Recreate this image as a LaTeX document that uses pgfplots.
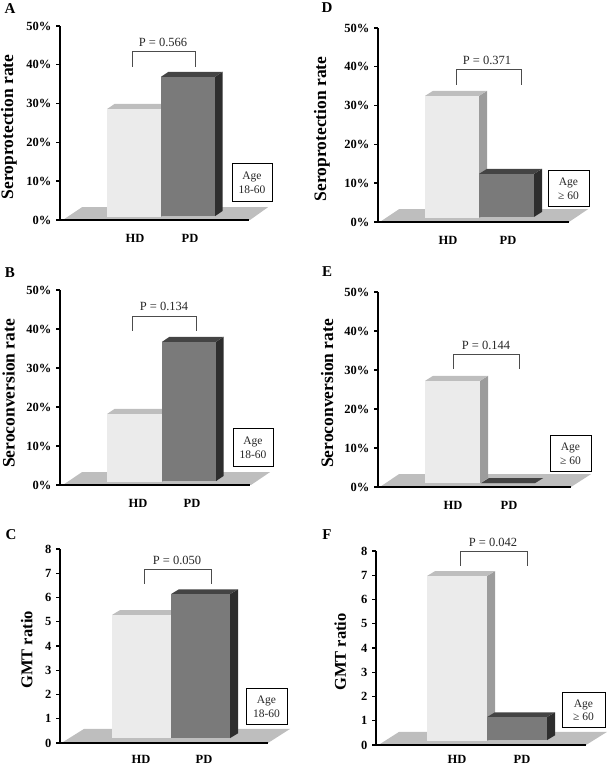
\documentclass[border=0pt]{standalone}
\usepackage{fontspec}
\setmainfont{Liberation Serif}
\usepackage{pgfplots}
\pgfplotsset{compat=1.18}

\definecolor{hdfront}{HTML}{EBEBEB}
\definecolor{hdtop}{HTML}{BEBEBE}
\definecolor{hdside}{HTML}{9C9C9C}
\definecolor{pdfront}{HTML}{7A7A7A}
\definecolor{pdtop}{HTML}{444444}
\definecolor{pdside}{HTML}{2E2E2E}
\definecolor{floor}{HTML}{BEBEBE}

% #1 hd/pd, #2 left, #3 right, #4 base, #5 top (x in px from the axis, y in axis units)
\newcommand{\threedbar}[5]{%
  \pgfmathsetmacro\xa{#2+\dx}%
  \pgfmathsetmacro\xb{#3+\dx}%
  \pgfmathsetmacro\ya{#4+\dy}%
  \pgfmathsetmacro\yb{#5+\dy}%
  \addplot[fill=#1side,draw=none] coordinates {(#3,#4)(\xb,\ya)(\xb,\yb)(#3,#5)} --cycle;
  \addplot[fill=#1top,draw=none] coordinates {(#2,#5)(\xa,\yb)(\xb,\yb)(#3,#5)} --cycle;
  \addplot[fill=#1front,draw=none] coordinates {(#2,#4)(#3,#4)(#3,#5)(#2,#5)} --cycle;
}

\pgfplotsset{
  panel/.style={
    anchor=south west,
    scale only axis,
    clip=false,
    axis on top,
    axis lines=left,
    axis line style={-,line width=2pt,black},
    xmin=0,ymin=0,
    tick align=outside,
    xtick style={draw=none},
    ytick style={line width=1.4pt,black},
    major tick length=4pt,
    xticklabels={HD,PD},
    tick label style={font=\bfseries\fontsize{12.5}{13}\selectfont},
    xticklabel style={anchor=center,yshift=-14pt},
    yticklabel style={xshift=-1pt},
  },
  pct/.style={ymax=50,ytick={0,10,...,50},yticklabels={0\%,10\%,20\%,30\%,40\%,50\%}},
  gmt/.style={ymax=8,ytick={0,1,...,8},yticklabels={0,1,2,3,4,5,6,7,8}},
  ylab/.style n args={4}{
    ylabel={#1},
    ylabel style={at={(axis description cs:#2,#3)},anchor=center,
      font=\bfseries\fontsize{#4}{18}\selectfont},
  },
}
\tikzset{
  bracket/.style={line width=0.8pt,black!70},
  ptext/.style={font=\fontsize{12.5}{13}\selectfont,text=black!85},
  agebox/.style={draw=black,line width=1pt,fill=white,align=center,inner sep=0pt,
    font=\fontsize{11.5}{13.5}\selectfont,text=black!85},
  letter/.style={font=\bfseries\fontsize{15}{16}\selectfont},
}

\begin{document}
\begin{tikzpicture}
\path[use as bounding box] (0,0) rectangle (609pt,765pt);

% A
\begin{axis}[panel,pct,at={(60pt,545pt)},width=189pt,height=194pt,xmax=189,
  xtick={75,130},ylab={Seroprotection rate}{-0.27}{0.48}{17.5}]
\def\dx{7.5}\def\dy{1.3}
\addplot[fill=floor,draw=none] coordinates {(4,0.2)(22,3.3)(208,3.3)(190,0)} --cycle;
\threedbar{hd}{47}{101}{0.8}{28.6}
\threedbar{pd}{101}{155}{1.0}{36.9}
\end{axis}

% B
\begin{axis}[panel,pct,at={(60pt,280pt)},width=190pt,height=195pt,xmax=190,
  xtick={78,132},ylab={Seroconversion rate}{-0.27}{0.47}{17.5}]
\def\dx{7.5}\def\dy{1.3}
\addplot[fill=floor,draw=none] coordinates {(4,0.2)(22,3.3)(210,3.3)(191,0)} --cycle;
\threedbar{hd}{47}{102}{0.8}{18.2}
\threedbar{pd}{102}{156}{1.0}{36.7}
\end{axis}

% C
\begin{axis}[panel,gmt,at={(60pt,22pt)},width=208pt,height=194pt,xmax=208,
  xtick={81,144},xticklabel style={yshift=2pt},ylab={GMT ratio}{-0.16}{0.48}{16.5}]
\def\dx{8}\def\dy{0.2}
\addplot[fill=floor,draw=none] coordinates {(3,0.04)(24,0.58)(230,0.58)(208,0)} --cycle;
\threedbar{hd}{52}{111}{0.2}{5.28}
\threedbar{pd}{111}{170}{0.2}{6.14}
\end{axis}

% D
\begin{axis}[panel,pct,at={(378pt,543pt)},width=191pt,height=194pt,xmax=191,
  xtick={70,130},ylab={Seroprotection rate}{-0.293}{0.48}{17.5}]
\def\dx{8}\def\dy{1.3}
\addplot[fill=floor,draw=none] coordinates {(3,0.2)(21,3.3)(210,3.3)(191,0)} --cycle;
\threedbar{hd}{47}{101}{1.0}{32.5}
\threedbar{pd}{101}{156}{1.3}{12.4}
\end{axis}

% E
\begin{axis}[panel,pct,at={(378pt,278pt)},width=193pt,height=195pt,xmax=193,
  xtick={75,131},ylab={Seroconversion rate}{-0.264}{0.48}{17.5}]
\def\dx{8}\def\dy{1.3}
\addplot[fill=floor,draw=none] coordinates {(3,0.2)(21,3.3)(213,3.3)(193,0)} --cycle;
\threedbar{hd}{47}{102}{1.0}{27.2}
\threedbar{pd}{103}{157}{1.0}{1.0}
\end{axis}

% F
\begin{axis}[panel,gmt,at={(376pt,20pt)},width=210pt,height=194pt,xmax=210,
  xtick={81,146},xticklabel style={yshift=4pt},ylab={GMT ratio}{-0.17}{0.48}{16.5}]
\def\dx{8}\def\dy{0.2}
\addplot[fill=floor,draw=none] coordinates {(4,0.04)(23,0.54)(231,0.54)(210,0)} --cycle;
\threedbar{hd}{51}{111}{0.16}{6.97}
\threedbar{pd}{111}{171}{0.2}{1.15}
\end{axis}

% annotations, in image pixels from the top left
\begin{scope}[x=1pt,y=-1pt,yshift=765pt]
  \node[letter] at (10,9) {A};
  \node[letter] at (10,273) {B};
  \node[letter] at (11,535) {C};
  \node[letter] at (327,8) {D};
  \node[letter] at (327,272) {E};
  \node[letter] at (327,535) {F};

  \draw[bracket] (132,67) -- (132,51) -- (195,51) -- (195,67);
  \node[ptext] at (163,42) {P = 0.566};
  \draw[bracket] (132,331) -- (132,316) -- (196,316) -- (196,331);
  \node[ptext] at (164,306.5) {P = 0.134};
  \draw[bracket] (144,584) -- (144,569) -- (211,569) -- (211,584);
  \node[ptext] at (177,560) {P = 0.050};
  \draw[bracket] (456,85) -- (456,69) -- (521,69) -- (521,85);
  \node[ptext] at (487,60) {P = 0.371};
  \draw[bracket] (453,369) -- (453,354) -- (519,354) -- (519,369);
  \node[ptext] at (486,345) {P = 0.144};
  \draw[bracket] (460,566) -- (460,551) -- (527,551) -- (527,566);
  \node[ptext] at (493,542) {P = 0.042};

  \node[agebox,minimum width=40pt,minimum height=38pt] at (252,183) {Age\\18-60};
  \node[agebox,minimum width=40pt,minimum height=38pt] at (253,448) {Age\\18-60};
  \node[agebox,minimum width=41pt,minimum height=36pt] at (266.5,707) {Age\\18-60};
  \node[agebox,minimum width=41pt,minimum height=36pt] at (568.5,189) {Age\\≥ 60};
  \node[agebox,minimum width=41pt,minimum height=36pt] at (570.5,454) {Age\\≥ 60};
  \node[agebox,minimum width=43pt,minimum height=35pt] at (583.5,710.5) {Age\\≥ 60};
\end{scope}
\end{tikzpicture}
\end{document}
